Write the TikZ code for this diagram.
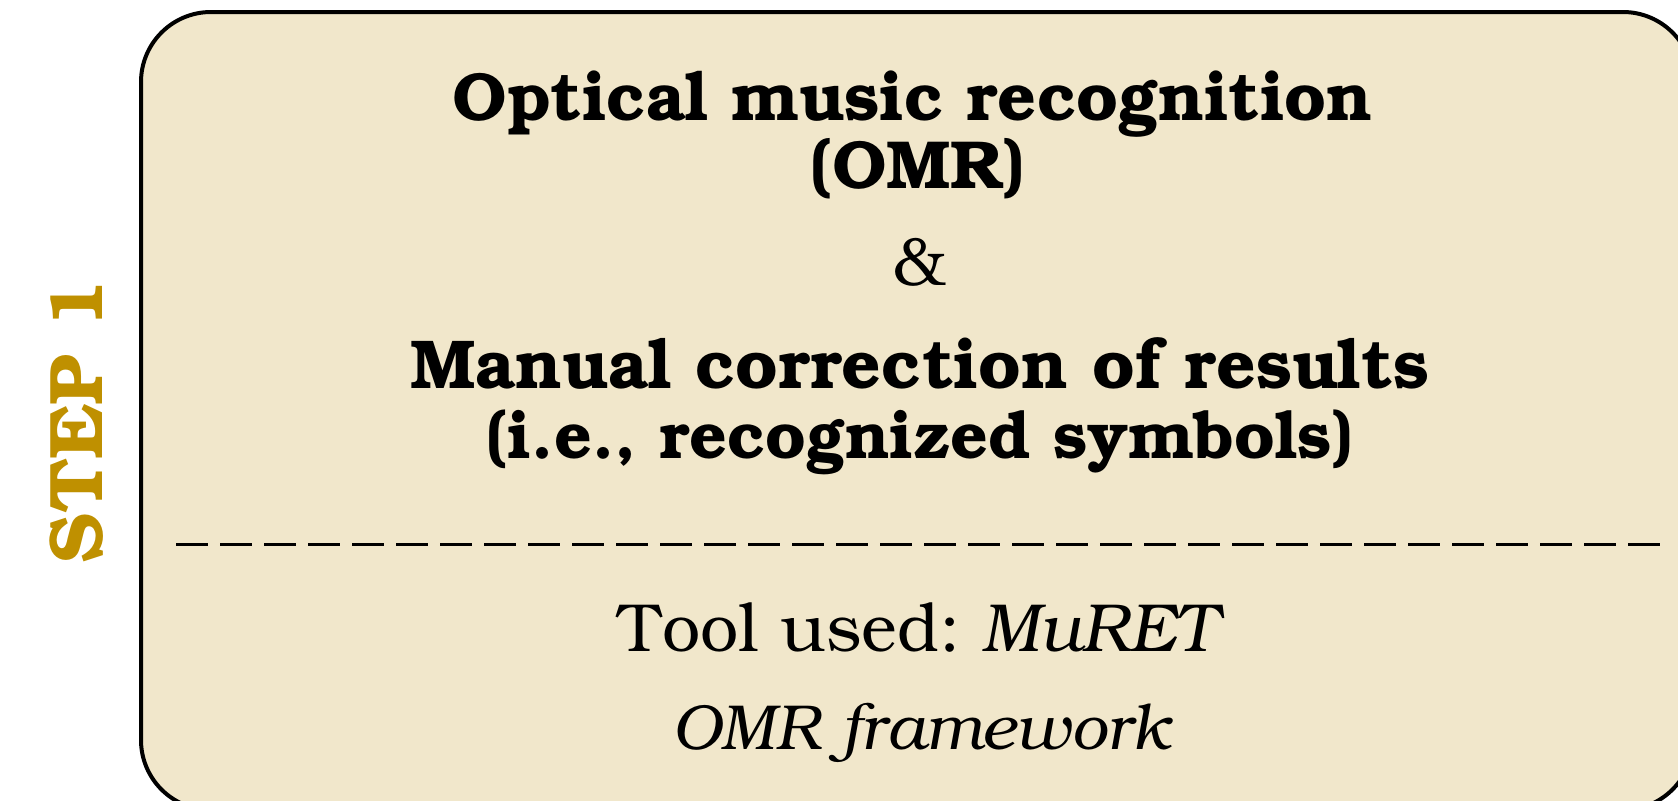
\documentclass[tikz,border=0pt]{standalone}
\usepackage[T1]{fontenc}
\usepackage{bookman}
\definecolor{boxfill}{HTML}{F1E7CB}
\definecolor{stepgold}{HTML}{BF9000}
\tikzset{
  boldline/.style={anchor=base, inner sep=0pt, font=\fontsize{34}{35}\selectfont\bfseries},
  plainline/.style={anchor=base, inner sep=0pt, font=\fontsize{34}{36}\selectfont},
  steplabel/.style={anchor=base, inner sep=0pt, rotate=90, text=stepgold, font=\fontsize{38}{40}\selectfont\bfseries},
  panel/.style={draw=black, line width=2pt, fill=boxfill, rounded corners=35pt},
  divider/.style={draw=black, line width=1.5pt, dash pattern=on 16pt off 6pt}
}
\begin{document}
\begin{tikzpicture}[x=0.5pt,y=-0.5pt]
\useasboundingbox (0,0) rectangle (1678,800);
\clip (0,0) rectangle (1678,800);
\draw[panel] (141,12) rectangle (1693,810);
\node[boldline] (t1) at (913,120) {Optical music recognition};
\node[boldline] (t2) at (918,188) {(OMR)};
\node[plainline] (amp) at (920,285) {\&};
\node[boldline, font=\fontsize{34.6}{36}\selectfont\bfseries] (t3) at (920,388) {Manual correction of results};
\node[boldline, font=\fontsize{33}{34}\selectfont\bfseries] (t4) at (920,458) {(i.e., recognized symbols)};
\coordinate (dl) at (176,544);
\coordinate (dr) at (1670,544);
\draw[divider] (dl) -- (dr);
\node[plainline] (tool) at (922,651) {Tool used:\hspace{10pt}\textit{MuRET}};
\node[plainline, font=\fontsize{31.8}{34}\selectfont] (fw) at (923,749) {\textit{OMR framework}};
\node[steplabel] (step) at (102,421) {STEP 1};
\end{tikzpicture}
\end{document}
